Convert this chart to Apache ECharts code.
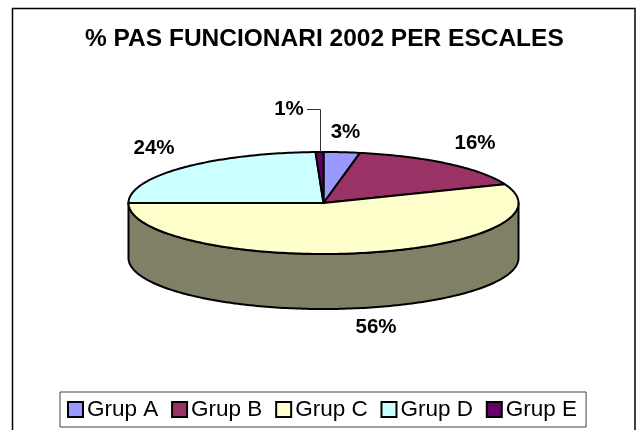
<!DOCTYPE html>
<html><head><meta charset="utf-8">
<style>html,body{margin:0;padding:0;background:#fff}#c{width:639px;height:430px}</style>
<script src="https://cdn.jsdelivr.net/npm/echarts@6/dist/echarts.min.js"></script>
</head><body><div id="c"></div>
<script>
const titleText = '% PAS FUNCIONARI 2002 PER ESCALES';
const categories = ['Grup A', 'Grup B', 'Grup C', 'Grup D', 'Grup E'];
const values = [3, 16, 56, 24.35, 0.65];
const colors = ['#9999FF', '#993366', '#FFFFCC', '#CCFFFF', '#660066'];
const wallColor = '#808066';

const chart = echarts.init(document.getElementById('c'), null, {renderer: 'canvas'});
const CX = 323.5, CY = 203, RX = 195, RY = 51, DEPTH = 55;
const total = values.reduce((a, b) => a + b, 0);
const labelPos = [[345.5, 132], [475, 143], [376, 327], [154, 148], [289, 109]];

function pt(deg, dy) {
  const t = deg * Math.PI / 180;
  return [CX + RX * Math.sin(t), CY - RY * Math.cos(t) + (dy || 0)];
}
function arc(a0, a1, dy) {
  const out = [];
  const n = Math.max(2, Math.ceil(Math.abs(a1 - a0)));
  for (let i = 0; i <= n; i++) out.push(pt(a0 + (a1 - a0) * i / n, dy));
  return out;
}
const stroke = {stroke: '#000', lineWidth: 2, lineJoin: 'round'};

function makeRender(idx) {
  return function (params, api) {
    const v = api.value(0);
    let before = 0;
    for (let i = 0; i < idx; i++) before += values[i];
    const a0 = before / total * 360, a1 = (before + v) / total * 360;
    const children = [];
    const visStart = Math.max(a0, 90), visEnd = Math.min(a1, 270);
    if (visEnd > visStart) {
      const pts = arc(visStart, visEnd, 0).concat(arc(visEnd, visStart, DEPTH));
      children.push({type: 'polygon', shape: {points: pts}, style: Object.assign({fill: wallColor}, stroke)});
    }
    children.push({type: 'polygon', shape: {points: [[CX, CY]].concat(arc(a0, a1, 0))},
      style: Object.assign({fill: colors[idx]}, stroke)});
    children.push({type: 'text', x: labelPos[idx][0], y: labelPos[idx][1],
      style: {text: Math.round(v) + '%', fill: '#000', font: 'bold 20.5px "Liberation Sans"', align: 'center', verticalAlign: 'middle'}});
    if (idx === 4) {
      children.push({type: 'polyline', shape: {points: [[307, 109.5], [320.5, 109.5], [320.5, 152]]},
        style: {stroke: '#333', lineWidth: 1, fill: null}});
    }
    return {type: 'group', children};
  };
}

const series = categories.map((name, i) => ({
  name, type: 'custom', coordinateSystem: 'none', silent: true, animation: false,
  itemStyle: {color: colors[i]}, data: [[values[i]]], renderItem: makeRender(i), z: i === 4 ? 3 : 2
}));

chart.setOption({
  animation: false,
  backgroundColor: '#fff',
  graphic: [{type: 'rect', z: 0, shape: {x: 12.5, y: 8.5, width: 622.5, height: 440},
    style: {fill: '#fff', stroke: '#000', lineWidth: 1.5}}],
  title: {text: titleText, left: 85, top: 27, padding: 0,
    textStyle: {fontFamily: 'Liberation Sans', fontWeight: 'bold', fontSize: 24.5, color: '#000'}},
  legend: {data: categories, left: 60, top: 392, orient: 'horizontal', padding: [6, 9, 6, 7],
    itemGap: 12.8, itemWidth: 15, itemHeight: 15, icon: 'rect',
    borderColor: '#444', borderWidth: 1, backgroundColor: '#fff', selectedMode: false,
    itemStyle: {borderColor: '#000', borderWidth: 2},
    textStyle: {fontFamily: 'Liberation Sans', fontSize: 22.5, color: '#000', padding: [0, 0, 0, -1]}},
  series
});
</script></body></html>
